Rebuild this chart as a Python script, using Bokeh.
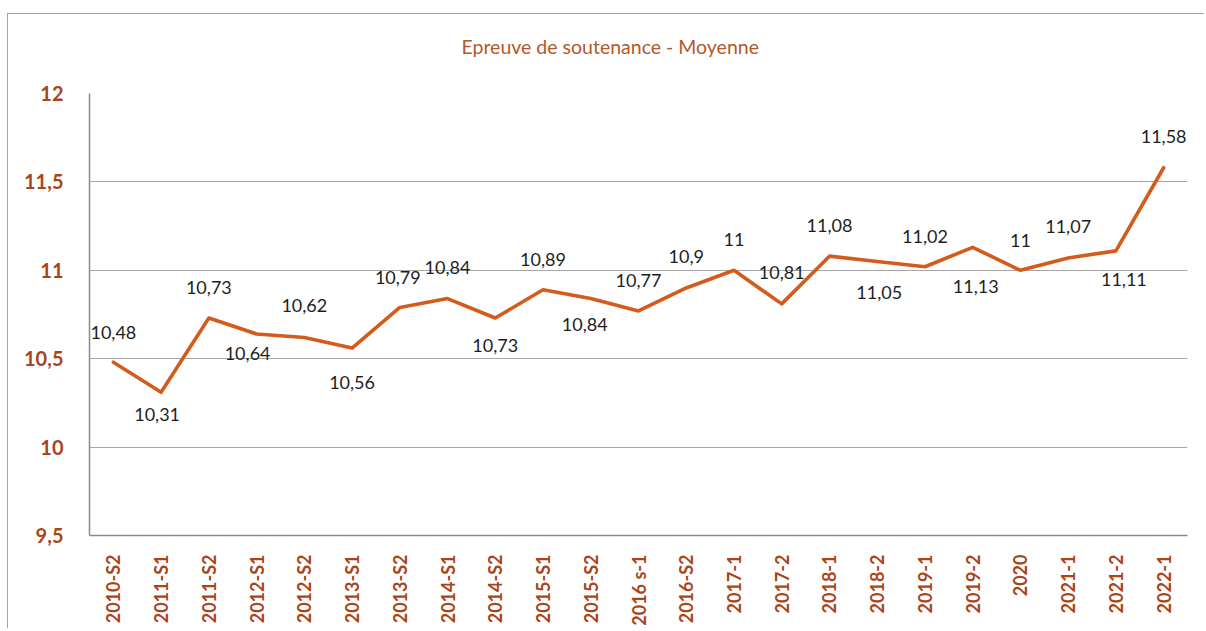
from math import pi
from bokeh.plotting import figure
from bokeh.models import ColumnDataSource, FactorRange, Range1d, FixedTicker, Title
from bokeh.core.properties import value
from bokeh.embed import file_html
from bokeh.resources import INLINE

# ---- data ----
categories = ["2010-S2", "2011-S1", "2011-S2", "2012-S1", "2012-S2", "2013-S1",
              "2013-S2", "2014-S1", "2014-S2", "2015-S1", "2015-S2", "2016 s-1",
              "2016-S2", "2017-1", "2017-2", "2018-1", "2018-2", "2019-1",
              "2019-2", "2020", "2021-1", "2021-2", "2022-1"]
moyenne = [10.48, 10.31, 10.73, 10.64, 10.62, 10.56, 10.79, 10.84, 10.73, 10.89,
           10.84, 10.77, 10.9, 11.0, 10.81, 11.08, 11.05, 11.02, 11.13, 11.0,
           11.07, 11.11, 11.58]
y_ticks = [9.5, 10, 10.5, 11, 11.5, 12]
y_tick_labels = ["9,5", "10", "10,5", "11", "11,5", "12"]
title_text = "Epreuve de soutenance - Moyenne"

# label placement (screen pixels, positive = down / right)
label_dy = [-30, 22, -31, 20, -32, 34, -30, -31, 27, -30, 26, -30,
            -31, -31, -31, -31, 31, -30, 39, -30, -31, 29, -31]
label_dx = [0, -4, 0, -9, 0, 0, -2, 0, 0, 0, -6, 0,
            0, 0, 0, 0, 2, 0, 3, 0, 0, 8, 0]

def fmt(v):
    s = ("%.2f" % v).rstrip("0").rstrip(".")
    return s.replace(".", ",")

src = ColumnDataSource(dict(
    x=categories, y=moyenne, lab=[fmt(v) for v in moyenne],
    dy=label_dy, dx=label_dx))

BROWN = "#A8461A"
LINE = "#D35C1C"

p = figure(width=1197, height=615, x_range=FactorRange(*categories, range_padding=0),
           y_range=Range1d(9.5, 12), output_backend="svg", toolbar_location=None,
           min_border_left=81, min_border_right=18, min_border_top=79,
           min_border_bottom=94, margin=(13, 0, 0, 7))
p.styles = {"border-top": "1px solid #A3A3A3", "border-left": "1px solid #A3A3A3"}

# spacer between frame and title
spacer = Title(text=" ", text_font="Lato", text_font_size="19.5px", standoff=11)
p.add_layout(spacer, "above")

p.title.text = title_text
p.title.align = "left"
p.title.text_font = "Lato"
p.title.text_font_size = "19.5px"
p.title.text_font_style = "normal"
p.title.text_color = "#B4572A"
p.title.standoff = 0
p.title.offset = 372

p.outline_line_color = None
p.background_fill_color = "white"
p.border_fill_color = "white"

p.line(x="x", y="y", source=src, line_color=LINE, line_width=3.6,
       line_join="round", line_cap="round")
p.text(x="x", y="y", text="lab", source=src, x_offset="dx", y_offset="dy",
       text_align="center", text_baseline="middle", text_font=value("Lato"),
       text_font_size="18px", text_color="#1E1E1E")

# y axis
p.yaxis.ticker = FixedTicker(ticks=y_ticks)
p.yaxis.major_label_overrides = {t: l for t, l in zip(y_ticks, y_tick_labels)}
p.yaxis.major_tick_line_color = None
p.yaxis.minor_tick_line_color = None
p.yaxis.major_label_standoff = 20
p.yaxis.major_label_text_font = "Lato"
p.yaxis.major_label_text_font_size = "20px"
p.yaxis.major_label_text_font_style = "bold"
p.yaxis.major_label_text_color = BROWN
p.yaxis.axis_line_color = "#8A8A8A"
p.yaxis.axis_line_width = 1.5

# x axis
p.xaxis.major_label_orientation = pi / 2
p.xaxis.major_tick_line_color = None
p.xaxis.minor_tick_line_color = None
p.xaxis.major_label_standoff = 13
p.xaxis.major_label_text_font = "Lato"
p.xaxis.major_label_text_font_size = "18px"
p.xaxis.major_label_text_font_style = "bold"
p.xaxis.major_label_text_color = BROWN
p.xaxis.axis_line_color = "#8A8A8A"
p.xaxis.axis_line_width = 1.5

p.xgrid.grid_line_color = None
p.ygrid.grid_line_color = "#A6A6A6"
p.ygrid.grid_line_width = 1

open("out.html", "w").write(file_html(p, INLINE))
